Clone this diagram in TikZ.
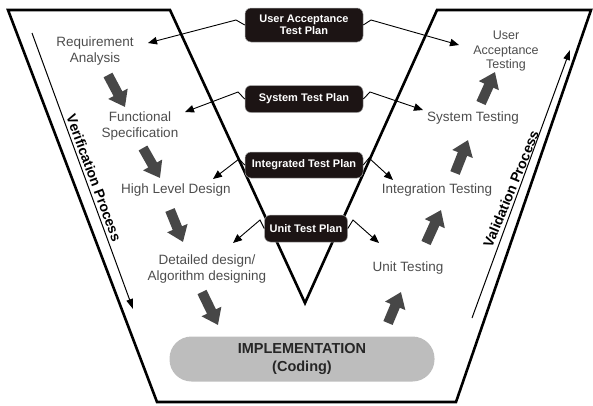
\documentclass[tikz,border=0pt]{standalone}
\usepackage{fontspec}
\setmainfont{Liberation Sans}
\usetikzlibrary{arrows.meta}
\definecolor{txtgray}{HTML}{4D4D4D}
\definecolor{arrgray}{HTML}{474747}
\definecolor{pillgray}{HTML}{BDBDBD}
\definecolor{planbg}{HTML}{1C1414}
\begin{document}
\begin{tikzpicture}[x=1pt,y=-1pt,
  frame/.style={line width=2.6pt, line join=miter},
  phase/.style={font=\fontsize{13.5}{16.5}\selectfont, text=txtgray, align=center, inner sep=0pt},
  plan/.style={fill=planbg, draw=gray!70, line width=0.5pt, rounded corners=6pt, text=white,
    font=\bfseries\fontsize{11}{12.5}\selectfont, align=center, inner sep=1pt, minimum width=118pt},
  link/.style={line width=0.9pt, line join=miter, -{Triangle[length=9pt,width=7.5pt]}},
  blockarrow/.style={draw=arrgray, line width=10pt, line cap=butt,
    -{Triangle[length=15pt,width=21pt]}},
  process/.style={line width=1pt, -{Triangle[length=10pt,width=6.5pt]}},
  proclabel/.style={font=\bfseries\fontsize{14}{16}\selectfont, inner sep=0pt},
  impl/.style={fill=pillgray, rounded corners=22pt, minimum width=265pt, minimum height=45pt,
    text=black!85, font=\bfseries\fontsize{14.5}{18}\selectfont, align=center}
]
\useasboundingbox (0,0) rectangle (593,405);

% outer V-shaped frame
\draw[frame] (8,10) -- (170,10) -- (305,303) -- (437,10) -- (591,10) -- (456,402) -- (157,402) -- cycle;

% process arrows along the sides
\coordinate (vtop) at (32,33);
\coordinate (vbot) at (133,309);
\coordinate (wbot) at (472,318);
\coordinate (wtop) at (570,50);
\draw[process] (vtop) -- (vbot);
\draw[process] (wbot) -- (wtop);
\node[proclabel, rotate=-69.7] (verif) at (94,178) {Verification Process};
\node[proclabel, rotate=67.5] (valid) at (511,189) {Validation Process};

% verification phases
\node[phase] (ra)  at (95,51)   {Requirement\\Analysis};
\node[phase] (fs)  at (140,126) {Functional\\Specification};
\node[phase] (hld) at (176,190) {High Level Design};
\node[phase] (dd)  at (207,269) {Detailed design/\\Algorithm designing};

% validation phases
\node[phase, font=\fontsize{12.5}{14.5}\selectfont] (uat) at (506,51) {User\\Acceptance\\Testing};
\node[phase] (st) at (473,118) {System Testing};
\node[phase] (it) at (437,190) {Integration Testing};
\node[phase] (ut) at (408,268) {Unit Testing};

% implementation
\node[impl] (imp) at (302,359) {IMPLEMENTATION\\(Coding)};

% block arrows: down the left arm, up the right arm
\coordinate (f1s) at (108,75);   \coordinate (f1e) at (125,107);
\coordinate (f2s) at (143,148);  \coordinate (f2e) at (160,178);
\coordinate (f3s) at (170,210);  \coordinate (f3e) at (183,242);
\coordinate (f4s) at (202,292);  \coordinate (f4e) at (218,325);
\coordinate (g1s) at (388,323);  \coordinate (g1e) at (401,292);
\coordinate (g2s) at (426,243);  \coordinate (g2e) at (441,210);
\coordinate (g3s) at (455,173);  \coordinate (g3e) at (468,140);
\coordinate (g4s) at (481,103);  \coordinate (g4e) at (495,72);
\foreach \a in {f1,f2,f3,f4,g1,g2,g3,g4}
  \draw[blockarrow] (\a s) -- (\a e);

% test plans
\node[plan, minimum height=34pt] (p1) at (304,25)  {User Acceptance\\Test Plan};
\node[plan, minimum height=27pt] (p2) at (304,99)  {System Test Plan};
\node[plan, minimum height=26pt] (p3) at (304,165) {Integrated Test Plan};
\node[plan, minimum height=27pt, minimum width=83pt] (p4) at (306,228.5) {Unit Test Plan};

% kinks and arrow ends of the plan links
\coordinate (k1l) at (236,20);  \coordinate (t1l) at (148,43);
\coordinate (k1r) at (371,20);  \coordinate (t1r) at (459,45);
\coordinate (k2l) at (238,92);  \coordinate (t2l) at (185,112);
\coordinate (k2r) at (370,92);  \coordinate (t2r) at (423,110);
\coordinate (k3l) at (239,159); \coordinate (t3l) at (213,179);
\coordinate (k3r) at (369,158); \coordinate (t3r) at (393,180);
\coordinate (k4l) at (260,220); \coordinate (t4l) at (233,243);
\coordinate (k4r) at (353,220); \coordinate (t4r) at (379,243);

\draw[link] (p1.west) -- (k1l) -- (t1l);
\draw[link] (p1.east) -- (k1r) -- (t1r);
\draw[link] (p2.west) -- (k2l) -- (t2l);
\draw[link] (p2.east) -- (k2r) -- (t2r);
\draw[link] (p3.west) -- (k3l) -- (t3l);
\draw[link] (p3.east) -- (k3r) -- (t3r);
\draw[link] (p4.west) -- (k4l) -- (t4l);
\draw[link] (p4.east) -- (k4r) -- (t4r);
\end{tikzpicture}
\end{document}
